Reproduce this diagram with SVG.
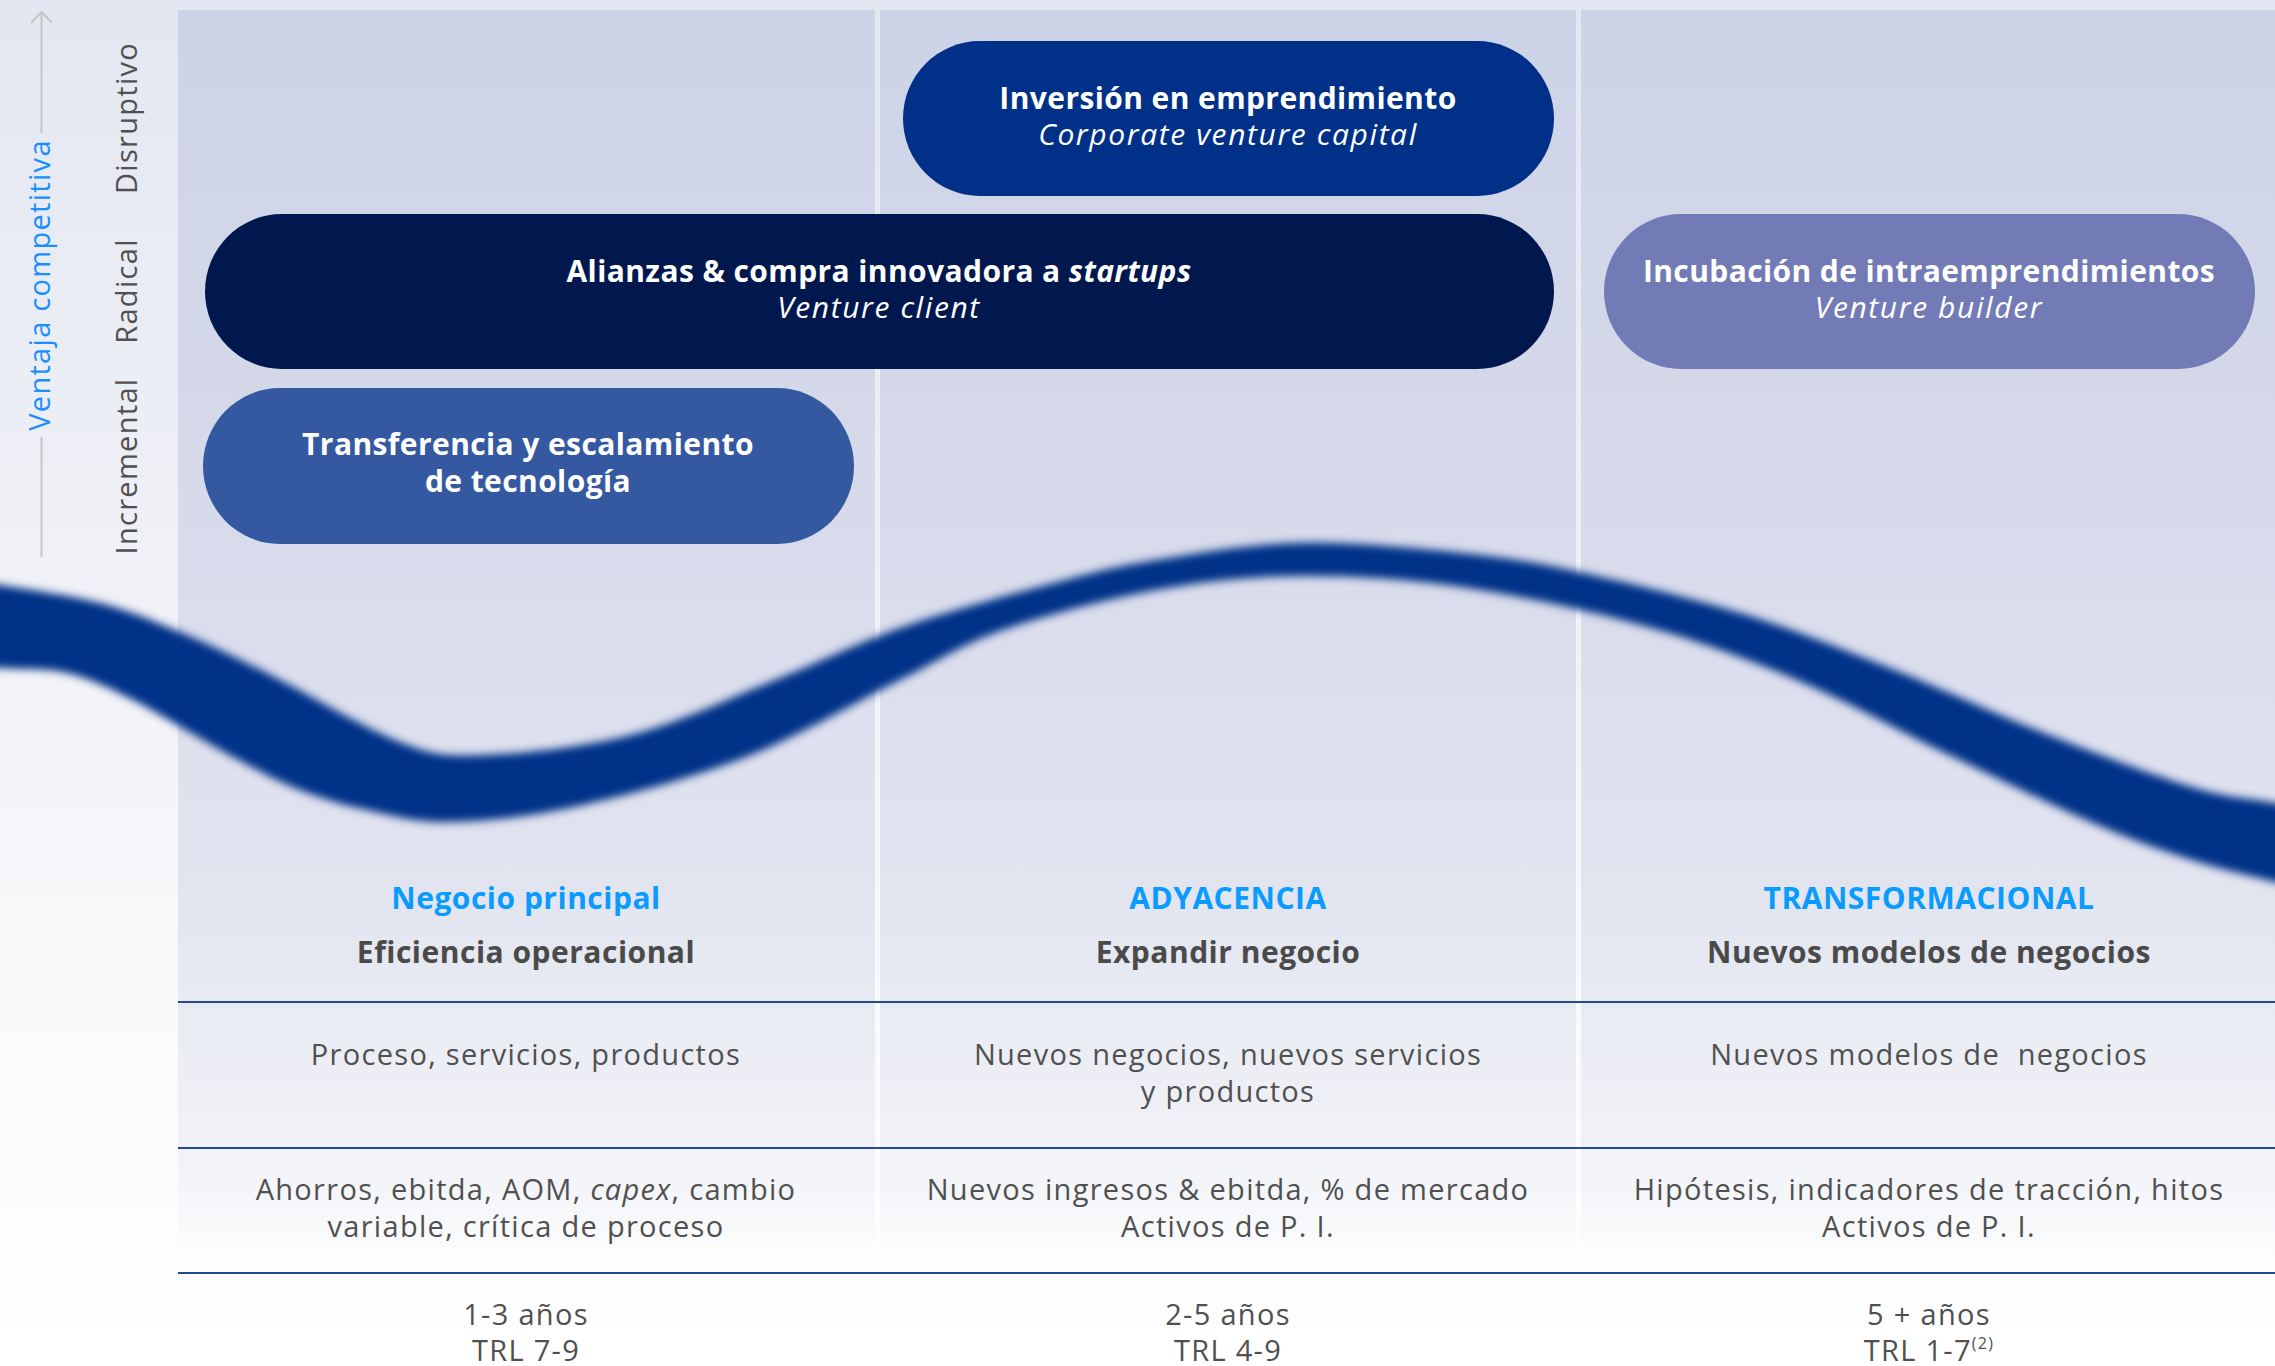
<svg xmlns="http://www.w3.org/2000/svg" width="2275" height="1366" viewBox="0 0 2275 1366">
  <defs>
    <linearGradient id="pageBg" x1="0" y1="0" x2="0" y2="1366" gradientUnits="userSpaceOnUse">
      <stop offset="0" stop-color="#e3e7f1"/>
      <stop offset="0.45" stop-color="#f1f2f7"/>
      <stop offset="0.75" stop-color="#fafafc"/>
      <stop offset="1" stop-color="#ffffff"/>
    </linearGradient>
    <linearGradient id="panelBg" x1="0" y1="10" x2="0" y2="1272" gradientUnits="userSpaceOnUse">
      <stop offset="0" stop-color="#cdd3e7"/>
      <stop offset="0.4" stop-color="#d6daea"/>
      <stop offset="0.7" stop-color="#e2e4f0"/>
      <stop offset="0.79" stop-color="#e9ebf3"/>
      <stop offset="0.9" stop-color="#f1f2f7"/>
      <stop offset="0.965" stop-color="#f8f9fb"/>
      <stop offset="1" stop-color="#ffffff" stop-opacity="0"/>
    </linearGradient>
    <filter id="soft" x="-5%" y="-20%" width="110%" height="140%">
      <feGaussianBlur stdDeviation="4.5"/>
    </filter>
    <style>
      .box text { font-family: "Open Sans", "Noto Sans", sans-serif; fill: #ffffff; text-anchor: middle; font-size: 30px; }
      .b { font-weight: 700; letter-spacing: 0.4px; }
      .i { font-style: italic; font-weight: 400; letter-spacing: 1.6px; }
      .axis { font-family: "Open Sans", "Noto Sans", sans-serif; font-size: 29px; letter-spacing: 1.3px; text-anchor: middle; }
      .lvl { fill: #505050; }
      .vc { fill: #1a8fff; }
      .hd1 { font-family: "Open Sans", "Noto Sans", sans-serif; font-size: 30px; letter-spacing: 0.5px; font-weight: 700; fill: #0a9bff; text-anchor: middle; }
      .hd2 { font-family: "Open Sans", "Noto Sans", sans-serif; font-size: 30px; letter-spacing: 0.5px; font-weight: 700; fill: #4a4a4a; text-anchor: middle; }
      .body { font-family: "Open Sans", "Noto Sans", sans-serif; font-size: 29px; letter-spacing: 1.3px; fill: #505050; text-anchor: middle; }
      .rule { stroke: #234a96; stroke-width: 2; }
      .arrow { stroke: #c6c6c6; stroke-width: 2; fill: none; }
    </style>
  </defs>

  <!-- background -->
  <rect x="0" y="0" width="2275" height="1366" fill="url(#pageBg)"/>
  <g id="panels">
    <rect x="178" y="10" width="697" height="1262" fill="url(#panelBg)"/>
    <rect x="880" y="10" width="696" height="1262" fill="url(#panelBg)"/>
    <rect x="1581" y="10" width="694" height="1262" fill="url(#panelBg)"/>
  </g>

  <!-- wave band -->
  <path id="wave" filter="url(#soft)" fill="#003088" d="M -100,570
    C -83.3,572.5 -33.3,579.5 0,585
    C 33.3,590.5 70,595.2 100,603
    C 130,610.8 152.2,620.3 180,632
    C 207.8,643.7 230.3,654.7 267,673
    C 303.7,691.3 364.2,728.3 400,742
    C 435.8,755.7 443.5,756.2 482,755
    C 520.5,753.8 582.2,747.5 631,735
    C 679.8,722.5 730.2,697.8 775,680
    C 819.8,662.2 853.5,644.2 900,628
    C 946.5,611.8 1011.3,594.3 1054,583
    C 1096.7,571.7 1115.2,566.7 1156,560
    C 1196.8,553.3 1248,544.2 1299,543
    C 1350,541.8 1415.3,548.2 1462,553
    C 1508.7,557.8 1531.5,561.7 1579,572
    C 1626.5,582.3 1694.3,598.7 1747,615
    C 1799.7,631.3 1845.5,650.3 1895,670
    C 1944.5,689.7 1994.5,713.5 2044,733
    C 2093.5,752.5 2153.5,775.3 2192,787
    C 2230.5,798.7 2244.5,797.2 2275,803
    C 2305.5,808.8 2358.3,818.8 2375,822
    L 2375,905
    C 2358.3,901.2 2305.5,889.5 2275,882
    C 2244.5,874.5 2222.3,869.8 2192,860
    C 2161.7,850.2 2134.2,840.8 2093,823
    C 2051.8,805.2 1994.3,776.8 1945,753
    C 1895.7,729.2 1846.5,701 1797,680
    C 1747.5,659 1703.8,642.5 1648,627
    C 1592.2,611.5 1520.2,595.5 1462,587
    C 1403.8,578.5 1350,575.5 1299,576
    C 1248,576.5 1205.3,581 1156,590
    C 1106.7,599 1045.7,615 1003,630
    C 960.3,645 942.8,658.8 900,680
    C 857.2,701.2 800.3,735.8 746,757
    C 691.7,778.2 623.7,796.2 574,807
    C 524.3,817.8 482.5,821.5 448,822
    C 413.5,822.5 391.7,815.3 367,810
    C 342.3,804.7 322.3,798.8 300,790
    C 277.7,781.2 260.8,772 233,757
    C 205.2,742 160.7,714 133,700
    C 105.3,686 89.2,678.3 67,673
    C 44.8,667.7 27.8,670.2 0,668
    C -27.8,665.8 -83.3,661.3 -100,660 Z"/>

  <!-- connectors: vertical axis arrow -->
  <g id="connectors">
    <line class="arrow" x1="41.5" y1="12" x2="41.5" y2="133"/>
    <line class="arrow" x1="41.5" y1="437" x2="41.5" y2="557"/>
    <polyline class="arrow" points="31,23 41.5,12 52,23"/>
  </g>

  <!-- axis labels -->
  <g id="axis-labels">
    <text class="axis vc" transform="translate(50,285) rotate(-90)">Ventaja competitiva</text>
    <text class="axis lvl" transform="translate(137,118) rotate(-90)">Disruptivo</text>
    <text class="axis lvl" transform="translate(137,291) rotate(-90)">Radical</text>
    <text class="axis lvl" transform="translate(137,466) rotate(-90)">Incremental</text>
  </g>

  <!-- nodes -->
  <g id="node-cvc" class="box">
    <rect x="903" y="41" width="651" height="155" rx="77" ry="77.5" fill="#003087"/>
    <text class="b" x="1228" y="109">Inversión en emprendimiento</text>
    <text class="i" x="1228" y="145">Corporate venture capital</text>
  </g>
  <g id="node-venture-client" class="box">
    <rect x="205" y="214" width="1349" height="155" rx="77" ry="77.5" fill="#00184d"/>
    <text class="b" x="879" y="282">Alianzas &amp; compra innovadora a <tspan font-style="italic">startups</tspan></text>
    <text class="i" x="879" y="318">Venture client</text>
  </g>
  <g id="node-tech-transfer" class="box">
    <rect x="203" y="388" width="651" height="156" rx="77" ry="78" fill="#3459a0"/>
    <text class="b" x="528" y="455">Transferencia y escalamiento</text>
    <text class="b" x="528" y="492">de tecnología</text>
  </g>
  <g id="node-venture-builder" class="box">
    <rect x="1604" y="214" width="651" height="155" rx="77" ry="77.5" fill="#737bb6"/>
    <text class="b" x="1929" y="282">Incubación de intraemprendimientos</text>
    <text class="i" x="1929" y="318">Venture builder</text>
  </g>

  <!-- table rules -->
  <g id="rules">
    <line class="rule" x1="178" y1="1002" x2="2275" y2="1002"/>
    <line class="rule" x1="178" y1="1148" x2="2275" y2="1148"/>
    <line class="rule" x1="178" y1="1273" x2="2275" y2="1273"/>
  </g>

  <!-- column 1 -->
  <g id="col-core">
    <text class="hd1" x="526" y="909">Negocio principal</text>
    <text class="hd2" x="526" y="963">Eficiencia operacional</text>
    <text class="body" x="526" y="1065">Proceso, servicios, productos</text>
    <text class="body" x="526" y="1200">Ahorros, ebitda, AOM, <tspan font-style="italic">capex</tspan>, cambio</text>
    <text class="body" x="526" y="1237">variable, crítica de proceso</text>
    <text class="body" x="526" y="1325">1-3 años</text>
    <text class="body" x="526" y="1361">TRL 7-9</text>
  </g>
  <!-- column 2 -->
  <g id="col-adjacent">
    <text class="hd1" x="1228" y="909">ADYACENCIA</text>
    <text class="hd2" x="1228" y="963">Expandir negocio</text>
    <text class="body" x="1228" y="1065">Nuevos negocios, nuevos servicios</text>
    <text class="body" x="1228" y="1102">y productos</text>
    <text class="body" x="1228" y="1200">Nuevos ingresos &amp; ebitda, % de mercado</text>
    <text class="body" x="1228" y="1237">Activos de P. I.</text>
    <text class="body" x="1228" y="1325">2-5 años</text>
    <text class="body" x="1228" y="1361">TRL 4-9</text>
  </g>
  <!-- column 3 -->
  <g id="col-transformational">
    <text class="hd1" x="1929" y="909">TRANSFORMACIONAL</text>
    <text class="hd2" x="1929" y="963">Nuevos modelos de negocios</text>
    <text class="body" x="1929" y="1065" xml:space="preserve">Nuevos modelos de  negocios</text>
    <text class="body" x="1929" y="1200">Hipótesis, indicadores de tracción, hitos</text>
    <text class="body" x="1929" y="1237">Activos de P. I.</text>
    <text class="body" x="1929" y="1325">5 + años</text>
    <text class="body" x="1929" y="1361">TRL 1-7<tspan font-size="16" dy="-12">(2)</tspan></text>
  </g>
</svg>
